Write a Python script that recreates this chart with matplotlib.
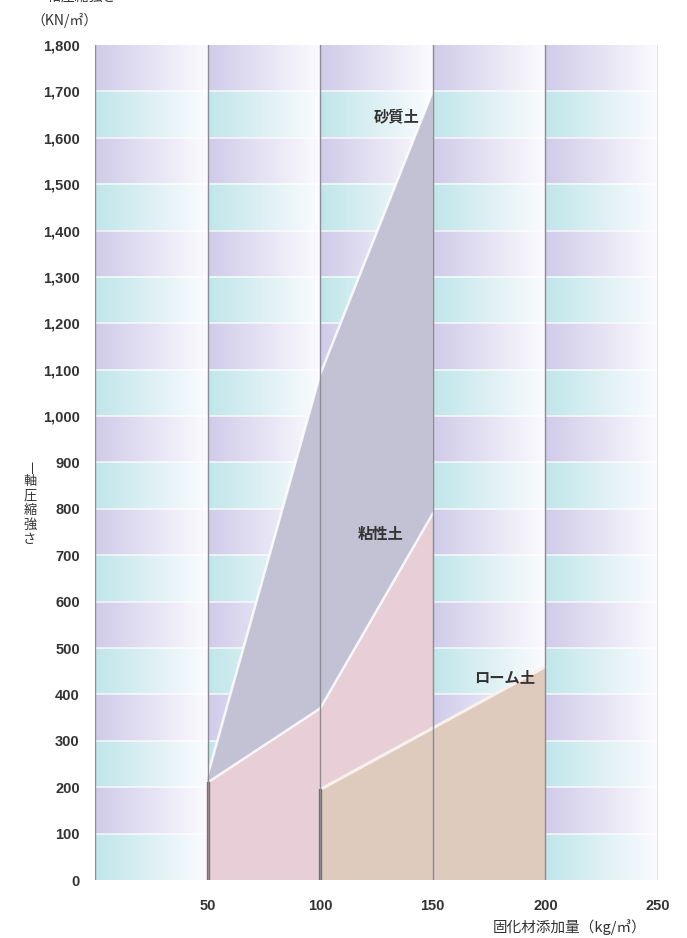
import numpy as np
import matplotlib
matplotlib.use("Agg")
import matplotlib.pyplot as plt

plt.rcParams['font.family'] = ['Liberation Sans', 'Noto Sans CJK JP', 'DejaVu Sans']

# ---- data ----
x_ticks = [50, 100, 150, 200, 250]
y_ticks = list(range(0, 1900, 100))

sandy_x = [50, 100, 150]          # 砂質土
sandy_y = [225, 1090, 1700]
clay_x = [50, 100, 150]           # 粘性土
clay_y = [210, 370, 790]
loam_x = [100, 200]               # ローム土
loam_y = [195, 460]

labels = ['砂質土', '粘性土', 'ローム土']
label_pos_x = [134, 127, 182]
label_pos_y = [1645, 745, 438]

CJK = ['Noto Sans CJK JP', 'DejaVu Sans']

# ---- figure ----
fig = plt.figure(figsize=(6.87, 9.38), dpi=100)
ax = fig.add_axes([95/687, 1-880/938, (658-95)/687, (880-45)/938])
ax.set_xlim(0, 250)
ax.set_ylim(0, 1800)

# background gradient bands
purple = np.array([208, 203, 233]) / 255
cyan = np.array([192, 230, 234]) / 255
white = np.array([251, 251, 254]) / 255
nx = 1000
xs = (np.arange(nx) + 0.5) / nx * 250
t = (xs % 50) / 50
img = np.zeros((18, nx, 3))
for i in range(18):
    c = purple if i % 2 == 1 else cyan
    img[i] = c[None, :] * (1 - t[:, None]) + white[None, :] * t[:, None]
ax.imshow(img, extent=[0, 250, 0, 1800], origin='lower', aspect='auto',
          interpolation='nearest', zorder=0)

# horizontal white separators
for yv in y_ticks[1:-1]:
    ax.axhline(yv, color='white', lw=1.2, alpha=0.75, zorder=1)

# polygons
ax.fill(sandy_x + [sandy_x[-1], sandy_x[0]], sandy_y + [0, 0],
        color=(0.760, 0.760, 0.832), lw=0, zorder=2)
ax.plot(sandy_x, sandy_y, color='white', lw=1.8, alpha=0.85, zorder=2.1)
ax.fill(clay_x + [clay_x[-1], clay_x[0]], clay_y + [0, 0],
        color=(0.910, 0.808, 0.843), lw=0, zorder=3)
ax.plot(clay_x, clay_y, color='white', lw=1.8, alpha=0.85, zorder=3.1)
ax.fill(loam_x + [loam_x[-1], loam_x[0]], loam_y + [0, 0],
        color=(0.875, 0.792, 0.745), lw=0, zorder=4)
ax.plot(loam_x, loam_y, color=(0.97, 0.95, 0.92), lw=2.2, zorder=4.1)

# dark start segments
ax.plot([clay_x[0]] * 2, [0, clay_y[0]], color=(0.50, 0.38, 0.42), lw=2.4, zorder=5)
ax.plot([loam_x[0]] * 2, [0, loam_y[0]], color=(0.45, 0.40, 0.38), lw=2.4, zorder=5)

# vertical grid lines
for xv in [0] + x_ticks:
    ax.axvline(xv, color=(0.55, 0.55, 0.58), lw=1.0, zorder=6)

for sp in ax.spines.values():
    sp.set_visible(False)

ax.set_xticks(x_ticks)
ax.set_xticklabels([str(v) for v in x_ticks])
ax.set_yticks(y_ticks)
ax.set_yticklabels([f"{v:,}" for v in y_ticks])
ax.tick_params(length=0, labelsize=10.5, labelcolor='#333333', pad=11)
ax.tick_params(axis='x', pad=14)
for lab in ax.get_xticklabels() + ax.get_yticklabels():
    lab.set_fontweight('bold')

# series labels
for s, lx, ly in zip(labels, label_pos_x, label_pos_y):
    ax.text(lx, ly, s, fontsize=11, color='#333333', ha='center', va='center',
            fontweight='bold', family=CJK, zorder=7)

# axis titles
fig.text(31/687, 1-20/938, '（KN/㎡）', fontsize=10, color='#333333',
         ha='left', va='center', family=CJK)
fig.text(33/687, 1-(-3)/938, '一軸圧縮強さ', fontsize=10, color='#333333',
         ha='left', va='center', family=CJK)
fig.text(646/687, 1-927/938, '固化材添加量（kg/㎥）', fontsize=10.5, color='#333333',
         ha='right', va='center', family=CJK)
for i, ch in enumerate('一軸圧縮強さ'):
    fig.text(30/687, 1-(467 + i*14.5)/938, ch, fontsize=9 if ch == '一' else 9.5,
             color='#333333', rotation=-90 if ch == '一' else 0, family=CJK,
             ha='center', va='center')

fig.savefig('out.png', dpi=100)
